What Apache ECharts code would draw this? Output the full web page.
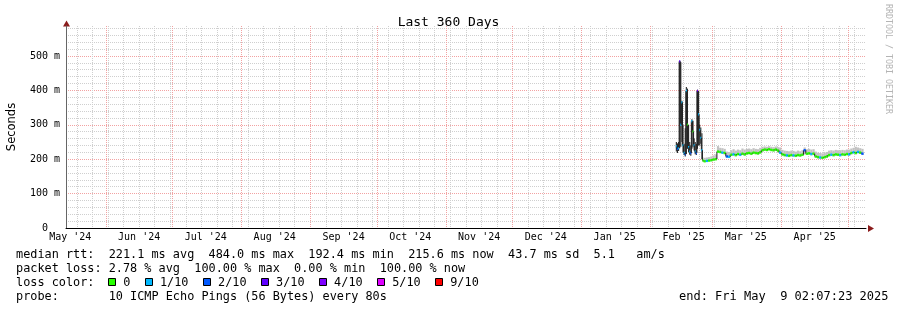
<!DOCTYPE html>
<html><head><meta charset="utf-8">
<script src="https://cdn.jsdelivr.net/npm/echarts@6/dist/echarts.min.js"></script>
<style>html,body{margin:0;padding:0;background:#fff}#c{width:897px;height:310px}</style>
</head><body><div id="c"></div>
<script>
// ---------- time range ----------
const RANGE_START = '2024-05-14T02:07:23';
const RANGE_END   = '2025-05-09T02:07:23';
const DATA_END    = '2025-05-08T00:00';

// ---------- data (step start times, values in ms) ----------
const times = [
 '2025-02-12T12:00','2025-02-13T00:00','2025-02-13T12:00','2025-02-14T00:00','2025-02-14T12:00',
 '2025-02-15T00:00','2025-02-15T12:00','2025-02-16T00:00','2025-02-16T12:00','2025-02-17T00:00',
 '2025-02-17T12:00','2025-02-18T00:00','2025-02-18T12:00','2025-02-19T00:00','2025-02-19T12:00',
 '2025-02-20T00:00','2025-02-20T12:00','2025-02-21T00:00','2025-02-21T12:00','2025-02-22T00:00',
 '2025-02-22T12:00','2025-02-23T00:00','2025-02-23T12:00','2025-02-24T00:00','2025-02-24T12:00',
 '2025-02-25','2025-02-26','2025-02-27','2025-02-28',
 '2025-03-01','2025-03-02','2025-03-03','2025-03-04','2025-03-05','2025-03-06','2025-03-07','2025-03-08',
 '2025-03-09','2025-03-10','2025-03-11','2025-03-12','2025-03-13','2025-03-14','2025-03-15','2025-03-16',
 '2025-03-17','2025-03-18','2025-03-19','2025-03-20','2025-03-21','2025-03-22','2025-03-23','2025-03-24',
 '2025-03-25','2025-03-26','2025-03-27','2025-03-28','2025-03-29','2025-03-30','2025-03-31',
 '2025-04-01','2025-04-02','2025-04-03','2025-04-04','2025-04-05','2025-04-06','2025-04-07','2025-04-08',
 '2025-04-09','2025-04-10','2025-04-11','2025-04-12','2025-04-13','2025-04-14','2025-04-15','2025-04-16',
 '2025-04-17','2025-04-18','2025-04-19','2025-04-20','2025-04-21','2025-04-22','2025-04-23','2025-04-24',
 '2025-04-25','2025-04-26','2025-04-27','2025-04-28','2025-04-29','2025-04-30',
 '2025-05-01','2025-05-02','2025-05-03','2025-05-04','2025-05-05','2025-05-06','2025-05-07'
];
const median = [
 237,230,232,484,300,365,240,218,214,398,300,235,222,218,310,280,240,222,218,398,330,285,262,226,196,
 194,195,196,197,
 199,200,222,221,219,218,208,207,213,214,212,215,213,216,214,217,218,216,219,218,217,220,226,228,227,229,227,226,228,225,219,
 214,212,211,210,212,211,210,212,211,213,226,216,217,215,216,208,206,205,204,206,208,212,213,212,214,213,212,214,213,215,
 214,218,220,218,221,219,216
];
const smokeLow = [
 222,218,224,232,236,250,220,212,208,215,230,220,213,210,230,235,225,214,212,230,240,240,245,200,192,
 192,193,193,194,
 196,197,218,217,215,214,204,203,209,210,208,211,209,212,210,213,214,212,215,214,213,216,222,224,223,225,223,222,224,221,215,
 210,208,207,206,208,207,206,208,207,209,214,212,213,211,212,204,202,201,200,202,204,208,209,208,210,209,208,210,209,211,
 210,214,216,214,217,215,212
];
const smokeHigh = [
 250,246,250,486,482,370,300,245,290,410,405,300,250,240,316,312,260,250,245,402,398,300,292,275,205,
 204,205,206,208,
 211,214,238,233,232,230,222,221,226,229,225,228,226,231,228,230,231,229,232,230,229,233,236,237,236,238,236,235,237,235,234,
 227,225,224,223,225,224,222,225,223,226,234,229,230,228,229,222,219,218,217,219,221,225,226,225,227,226,226,227,226,228,
 228,231,233,236,234,232,230
];
const lossTenths = [
 1,2,1,3,1,1,1,1,2,1,0,1,1,2,1,0,1,1,2,3,1,1,1,1,0,
 0,1,0,0,
 0,0,0,0,1,0,2,1,0,1,0,0,1,0,0,0,0,0,0,0,0,0,0,0,0,0,0,0,0,0,1,
 0,0,1,0,0,1,0,0,0,0,2,0,0,1,0,0,0,1,0,0,0,0,1,0,0,0,1,0,0,0,
 1,0,1,0,1,0,2
];

// ---------- axes / ticks ----------
const monthLines = ['2024-06-01','2024-07-01','2024-08-01','2024-09-01','2024-10-01','2024-11-01',
 '2024-12-01','2025-01-01','2025-02-01','2025-03-01','2025-04-01','2025-05-01'];
const monthLabelDates = ['2024-05-16','2024-06-16','2024-07-16','2024-08-16','2024-09-16','2024-10-16',
 '2024-11-16','2024-12-16','2025-01-16','2025-02-16','2025-03-16','2025-04-16'];
const monthLabels = ["May '24","Jun '24","Jul '24","Aug '24","Sep '24","Oct '24",
 "Nov '24","Dec '24","Jan '25","Feb '25","Mar '25","Apr '25"];
const FIRST_SUNDAY = '2024-05-19';
const yTicks = [0,100,200,300,400,500];
const yTickLabels = ['0  ','100 m','200 m','300 m','400 m','500 m'];
const Y_MAX = 587;

// ---------- legend ----------
const titleText = 'Last 360 Days';
const legendLine1 = 'median rtt:  221.1 ms avg  484.0 ms max  192.4 ms min  215.6 ms now  43.7 ms sd  5.1   am/s';
const legendLine2 = 'packet loss: 2.78 % avg  100.00 % max  0.00 % min  100.00 % now';
const legendLine3 = 'loss color:';
const legendLine4 = 'probe:       10 ICMP Echo Pings (56 Bytes) every 80s';
const endText = 'end: Fri May  9 02:07:23 2025';
const watermark = 'RRDTOOL / TOBI OETIKER';
const lossLevels = [0,1,2,3,4,5,9];
const lossNames = ['0','1/10','2/10','3/10','4/10','5/10','9/10'];
const lossColors = ['#26ff00','#00b8ff','#0059ff','#5e00ff','#7e00ff','#dd00ff','#ff0000'];

// ---------- helpers ----------
function ts(s){ return new Date(s.length === 10 ? s + 'T00:00' : s).getTime(); }
function lossColor(l){ let idx = 0; for (let k = 0; k < lossLevels.length; k++) if (l >= lossLevels[k]) idx = k; return lossColors[idx]; }
const tStart = ts(RANGE_START), tEnd = ts(RANGE_END), tDataEnd = ts(DATA_END);
const monthTs = monthLines.map(ts);
const labelTs = monthLabelDates.map(ts);
const weekTs = [];
for (let t = ts(FIRST_SUNDAY); t < tEnd; t += 7*86400000) weekTs.push(t);
const tTimes = times.map(ts);

const smokeData = tTimes.map((t,i)=>[t, i+1<tTimes.length ? tTimes[i+1] : tDataEnd, smokeLow[i], smokeHigh[i]]);
const medData = tTimes.map((t,i)=>[t, i+1<tTimes.length ? tTimes[i+1] : tDataEnd, median[i], lossTenths[i], i>0 ? median[i-1] : '-']);

const MONO = "'DejaVu Sans Mono', monospace";
const GRAY = '#cfcfcf', RED = '#f2a2a2';
const LF = 11.85;

const graphics = [];
graphics.push({type:'text', x:888, y:4, rotation:-Math.PI/2, silent:true,
  style:{text:watermark, font:'8.3px '+MONO, fill:'#b4b4b4', align:'left', verticalAlign:'middle'}});
graphics.push({type:'polygon', silent:true, shape:{points:[[868,225],[874,228.5],[868,232]]}, style:{fill:'#8b1c1c'}});
graphics.push({type:'polygon', silent:true, shape:{points:[[63,26.5],[66.5,20.5],[70,26.5]]}, style:{fill:'#8b1c1c'}});
const lineY = [255, 269, 283, 297];
[legendLine1, legendLine2, legendLine3, legendLine4].forEach((s,i)=>{
  graphics.push({type:'text', x:16, y:lineY[i], silent:true, style:{text:s, font:LF+'px '+MONO, fill:'#000', align:'left', verticalAlign:'middle'}});
});
graphics.push({type:'text', x:888.5, y:lineY[3], silent:true, style:{text:endText, font:'12px '+MONO, fill:'#000', align:'right', verticalAlign:'middle'}});
let lx = 108.3;
lossNames.forEach((n,i)=>{
  graphics.push({type:'rect', silent:true, shape:{x:Math.round(lx)+0.5, y:278.5, width:7, height:7}, style:{fill:lossColors[i], stroke:'#000', lineWidth:1}});
  graphics.push({type:'text', x:lx+15, y:lineY[2], silent:true, style:{text:n, font:LF+'px '+MONO, fill:'#000', align:'left', verticalAlign:'middle'}});
  lx = lx + 15 + n.length*7.14 + 14.5;
});

const chart = echarts.init(document.getElementById('c'), null, {renderer:'canvas'});
chart.setOption({
  animation:false,
  backgroundColor:'#fff',
  title:{text:titleText, left:'center', top:11, textStyle:{fontFamily:MONO, fontSize:13, fontWeight:'normal', color:'#000'}},
  grid:{left:66, top:26, width:800, height:202, containLabel:false, outerBoundsMode:'none'},
  xAxis:[
    {type:'value', min:tStart, max:tEnd, position:'bottom',
     axisLine:{show:false}, axisLabel:{show:false}, axisTick:{show:false, customValues:weekTs},
     splitLine:{show:true, lineStyle:{color:GRAY, type:[1,1], width:1}}},
    {type:'value', min:tStart, max:tEnd, position:'bottom',
     axisLine:{show:true, lineStyle:{color:'#000', width:1}},
     axisTick:{show:false, customValues:monthTs},
     axisLabel:{customValues:labelTs, margin:4, fontFamily:MONO, fontSize:10, color:'#000',
       formatter:(v)=>{ const k = labelTs.indexOf(v); return k>=0 ? monthLabels[k] : ''; }},
     splitLine:{show:true, lineStyle:{color:RED, type:[1,1], width:1}}}
  ],
  yAxis:[
    {type:'value', min:0, max:Y_MAX, interval:20, position:'left',
     axisLine:{show:false}, axisLabel:{show:false}, axisTick:{show:false},
     splitLine:{show:true, showMinLine:false, showMaxLine:false, lineStyle:{color:GRAY, type:[1,1], width:1}}},
    {type:'value', min:0, max:Y_MAX, interval:100, position:'left',
     name:'Seconds', nameLocation:'middle', nameGap:48, nameRotate:90,
     nameTextStyle:{fontFamily:"'DejaVu Sans', sans-serif", fontSize:11.5, color:'#000'},
     axisLine:{show:true, lineStyle:{color:'#666', width:1}}, axisTick:{show:false},
     axisLabel:{margin:6, fontFamily:MONO, fontSize:10, color:'#000', showMaxLabel:false,
       formatter:(v)=>{ const k = yTicks.indexOf(v); return k>=0 ? yTickLabels[k] : ''; }},
     splitLine:{show:true, showMinLine:false, showMaxLine:false, lineStyle:{color:RED, type:[1,1], width:1}}}
  ],
  series:[
    {type:'custom', name:'smoke', xAxisIndex:1, yAxisIndex:1, clip:true, silent:true,
     encode:{x:[0,1], y:[2,3]}, data:smokeData,
     renderItem:(params, api)=>{
       const a = api.coord([api.value(0), api.value(3)]);
       const b = api.coord([api.value(1), api.value(2)]);
       const spread = api.value(3) - api.value(2);
       return {type:'rect', shape:{x:a[0], y:a[1], width:b[0]-a[0], height:b[1]-a[1]},
               style:{fill: spread > 25 ? '#2a2a2a' : '#c2c2c2'}};
     }},
    {type:'custom', name:'median', xAxisIndex:1, yAxisIndex:1, clip:true, silent:true,
     encode:{x:[0,1], y:[2]}, data:medData,
     renderItem:(params, api)=>{
       const a = api.coord([api.value(0), api.value(2)]);
       const b = api.coord([api.value(1), api.value(2)]);
       const prev = api.value(4);
       const ch = [];
       if (!isNaN(prev)) {
         const p = api.coord([api.value(0), prev]);
         ch.push({type:'line', shape:{x1:a[0], y1:p[1], x2:a[0], y2:a[1]}, style:{stroke:'#202020', lineWidth:1}});
       }
       ch.push({type:'rect', shape:{x:a[0], y:a[1]-1.2, width:Math.max(1,b[0]-a[0]), height:2.4}, style:{fill:lossColor(api.value(3))}});
       return {type:'group', children:ch};
     }}
  ],
  graphic:graphics
});
</script></body></html>
